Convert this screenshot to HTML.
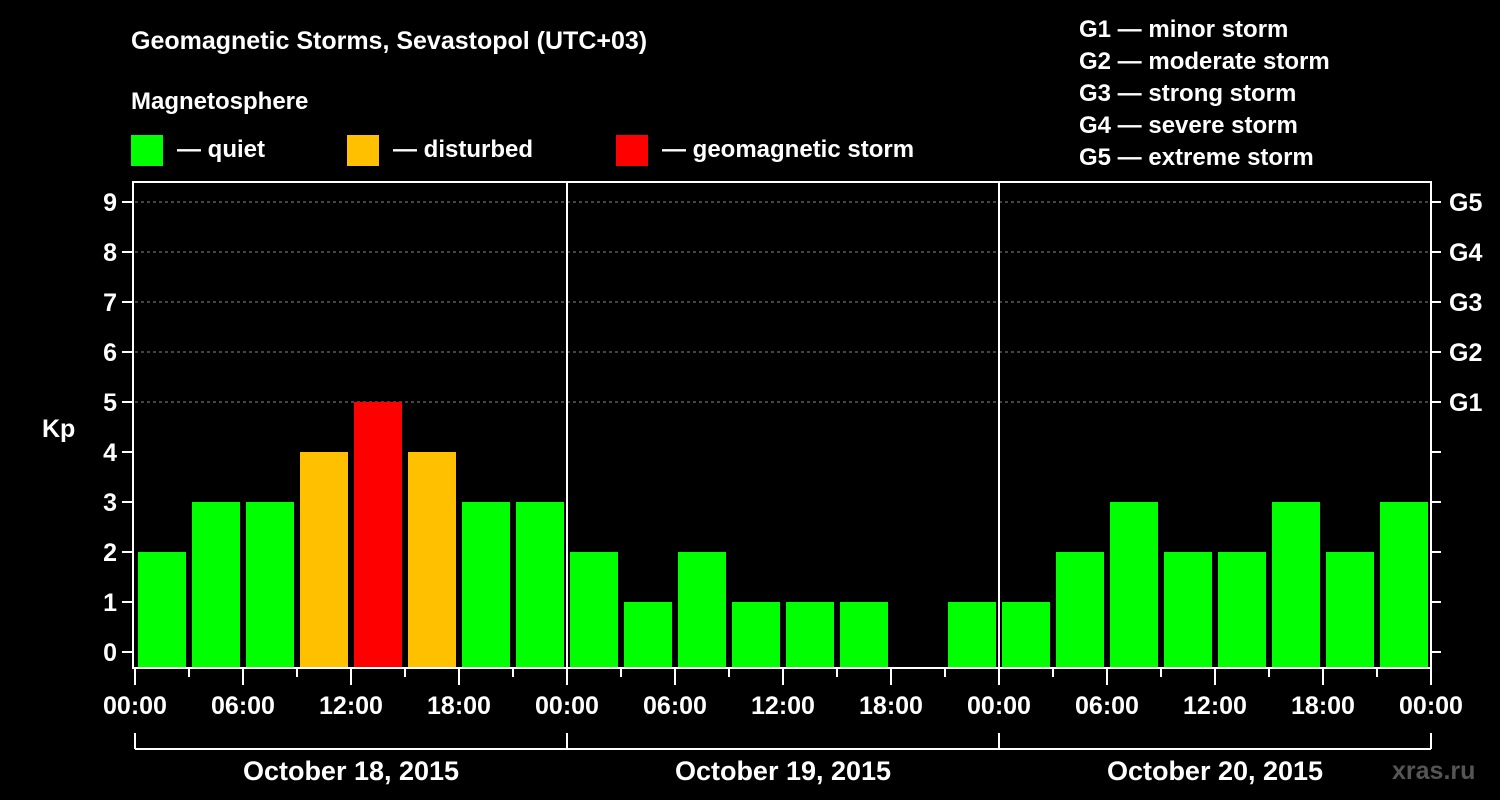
<!DOCTYPE html>
<html><head><meta charset="utf-8"><style>
body{margin:0;background:#000;}
svg{display:block;font-family:"Liberation Sans",Arial,sans-serif;font-weight:bold;}
</style></head><body>
<svg id="c" width="1500" height="800" viewBox="0 0 1500 800">
<rect width="1500" height="800" fill="#000"/>
<text x="131" y="49" fill="#fff" font-size="25">Geomagnetic Storms, Sevastopol (UTC+03)</text>
<text x="131" y="109" fill="#fff" font-size="24">Magnetosphere</text>
<g><rect x="131" y="135" width="32" height="31" fill="#00ff00"/><text x="177" y="157" fill="#fff" font-size="24">— quiet</text></g>
<g><rect x="347" y="135" width="32" height="31" fill="#ffc000"/><text x="393" y="157" fill="#fff" font-size="24">— disturbed</text></g>
<g><rect x="616" y="135" width="32" height="31" fill="#ff0000"/><text x="662" y="157" fill="#fff" font-size="24">— geomagnetic storm</text></g>
<g fill="#fff" font-size="24">
<text x="1079" y="37">G1 — minor storm</text>
<text x="1079" y="69">G2 — moderate storm</text>
<text x="1079" y="101">G3 — strong storm</text>
<text x="1079" y="133">G4 — severe storm</text>
<text x="1079" y="165">G5 — extreme storm</text>
</g>
<text x="42" y="437" fill="#fff" font-size="25">Kp</text>
<text x="1392" y="779" fill="#555" font-size="25">xras.ru</text>
<g id="g"></g>
</svg>
<script>
const days=["October 18, 2015","October 19, 2015","October 20, 2015"];
const kp=[2,3,3,4,5,4,3,3, 2,1,2,1,1,1,0,1, 1,2,3,2,2,3,2,3];
const yTicks=[0,1,2,3,4,5,6,7,8,9];
const gLabels=["G1","G2","G3","G4","G5"];
const hourLabels=["00:00","06:00","12:00","18:00"];
const NS="http://www.w3.org/2000/svg";
const g=document.getElementById('g');
const X0=135,DAY=432,Y0=652,UNIT=50,TOP=182,BOT=668,RIGHT=1431;
const xs=h=>X0+h*DAY/24;
const ys=v=>Y0-v*UNIT;
function el(t,a,txt){const e=document.createElementNS(NS,t);for(const k in a)e.setAttribute(k,a[k]);if(txt!=null)e.textContent=txt;g.appendChild(e);return e;}
// grid
yTicks.filter(v=>v>=5).forEach(v=>{const l=el('line',{x1:X0,x2:RIGHT,y1:ys(v),y2:ys(v),stroke:'#888','stroke-dasharray':'3,3','stroke-width':1});

});
// bars
kp.forEach((v,i)=>{if(v<=0)return;const c=v>=5?'#ff0000':v>=4?'#ffc000':'#00ff00';
const r=el('rect',{x:xs(i*3)+3,y:ys(v),width:48,height:BOT-ys(v),fill:c});

});
// frame
const f=el('rect',{x:133,y:TOP,width:RIGHT-133,height:BOT-TOP,fill:'none',stroke:'#fff','stroke-width':2});


for(let d=1;d<days.length;d++){const l=el('line',{x1:xs(d*24),x2:xs(d*24),y1:TOP,y2:BOT,stroke:'#fff','stroke-width':2});

}
// y ticks
yTicks.forEach(v=>{el('line',{x1:122,x2:133,y1:ys(v),y2:ys(v),stroke:'#fff','stroke-width':2});
el('line',{x1:RIGHT,x2:RIGHT+10,y1:ys(v),y2:ys(v),stroke:'#fff','stroke-width':2});
const t=el('text',{x:117,y:ys(v)+9,fill:'#fff','font-size':25,'text-anchor':'end'},String(v));

});
gLabels.forEach((s,i)=>{const t=el('text',{x:1449,y:ys(5+i)+9,fill:'#fff','font-size':25},s);

});
// x ticks
for(let h=0;h<=days.length*24;h+=3){const major=h%6===0;
el('line',{x1:xs(h),x2:xs(h),y1:BOT,y2:BOT+(major?17:9),stroke:'#fff','stroke-width':2});
if(major){const t=el('text',{x:xs(h),y:714,fill:'#fff','font-size':25,'text-anchor':'middle'},hourLabels[(h%24)/6]);

}}
// day brackets
el('line',{x1:xs(0),x2:xs(days.length*24),y1:749,y2:749,stroke:'#fff','stroke-width':2});
for(let d=0;d<=days.length;d++)el('line',{x1:xs(d*24),x2:xs(d*24),y1:733,y2:749,stroke:'#fff','stroke-width':2});
days.forEach((s,d)=>{const t=el('text',{x:xs(d*24+12),y:780,fill:'#fff','font-size':27,'text-anchor':'middle'},s);

});
</script>
</body></html>
